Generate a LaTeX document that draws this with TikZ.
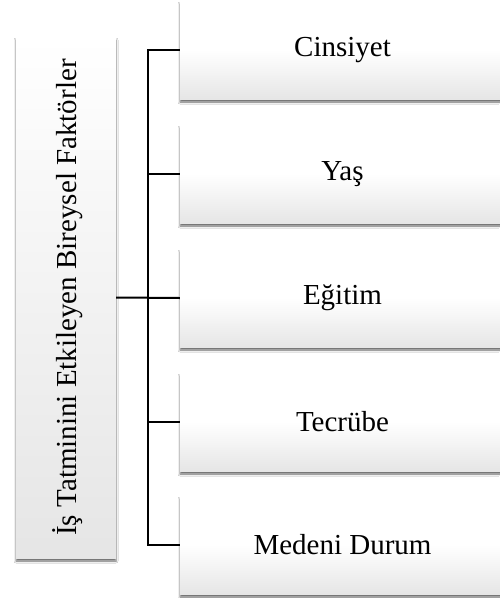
\documentclass[tikz,border=0pt]{standalone}
\usepackage{fontspec}
\setmainfont{Liberation Serif}
\usetikzlibrary{shadows.blur}
\tikzset{
  softshadow/.style={blur shadow={shadow xshift=0pt, shadow yshift=-3pt, shadow blur radius=2pt, shadow opacity=60}},
  factor/.style={rectangle, draw=none, minimum width=325pt, minimum height=98pt,
    top color=white, bottom color=black!10, middle color=white, shading angle=0,
    softshadow, font=\fontsize{29}{34}\selectfont, inner sep=0pt},
  mainbox/.style={rectangle, draw=none, minimum width=100pt, minimum height=521pt,
    top color=white, bottom color=black!10, softshadow, inner sep=0pt},
  link/.style={line width=2pt, black}
}
\begin{document}
\begin{tikzpicture}[x=1pt,y=-1pt]
\useasboundingbox (0,0) rectangle (499,598);
\fill[white] (0,0) rectangle (499,598);
\node[mainbox] (L) at (66,297.5) {};
\node[rotate=90, font=\fontsize{29}{34}\selectfont] (Lt) at (68,297.5) {İş Tatminini Etkileyen Bireysel Faktörler};
\node[factor] (b1) at (342.5,50) {Cinsiyet};
\node[factor] (b2) at (342.5,174) {Yaş};
\node[factor] (b3) at (342.5,298) {Eğitim};
\node[factor] (b4) at (342.5,422) {Tecrübe};
\node[factor] (b5) at (342.5,545) {Medeni Durum};
\coordinate (sp) at (148,0);
\draw[link] (b1.west) -- (b1.west -| sp) -- (b5.west -| sp) -- (b5.west);
\draw[link] (b2.west) -- (b2.west -| sp);
\draw[link] (b4.west) -- (b4.west -| sp);
\draw[link] (L.east) -- (b3.west);
\end{tikzpicture}
\end{document}
